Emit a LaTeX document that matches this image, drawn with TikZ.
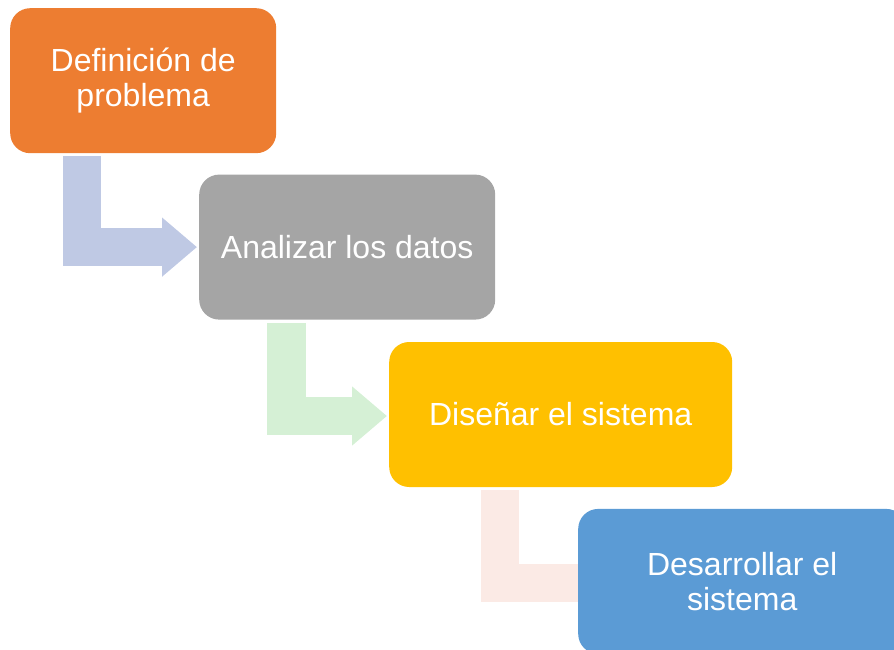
\documentclass[tikz,border=0pt]{standalone}
\usepackage{fontspec}
\setmainfont{Liberation Sans}
\usetikzlibrary{arrows.meta, positioning, backgrounds}
\definecolor{orangebox}{HTML}{ED7D31}
\definecolor{graybox}{HTML}{A5A5A5}
\definecolor{yellowbox}{HTML}{FFC000}
\definecolor{bluebox}{HTML}{5B9BD5}
\definecolor{bluearrow}{RGB}{191,201,228}
\definecolor{greenarrow}{RGB}{213,240,213}
\definecolor{pinkarrow}{RGB}{251,234,229}
\tikzstyle{block} = [rectangle, rounded corners=20pt, minimum height=145pt, inner sep=0pt, align=center, text=white, font=\fontsize{32}{35}\selectfont]
\tikzstyle{step one} = [block, fill=orangebox, minimum width=266pt]
\tikzstyle{step two} = [block, fill=graybox, minimum width=296pt]
\tikzstyle{step three} = [block, fill=yellowbox, minimum width=343pt]
\tikzstyle{step four} = [block, fill=bluebox, minimum width=328pt]
\tikzstyle{flow} = [line width=38.5pt, line join=miter, -{Triangle[length=35pt, width=57pt]}]

\begin{document}
\begin{tikzpicture}[x=1pt, y=1pt]
    \useasboundingbox (0,0) rectangle (894,-650);
    \clip (0,0) rectangle (894,-650);
    \node (problema) [step one, anchor=north west] at (10,-8) {Definición de\\problema};
    \node (datos) [step two, below=21pt of problema.south west, anchor=north west, xshift=189pt] {Analizar los datos};
    \node (diseno) [step three, below=22pt of datos.south west, anchor=north west, xshift=190pt] {Diseñar el sistema};
    \node (desarrollo) [step four, below=21.5pt of diseno.south west, anchor=north west, xshift=189pt] {Desarrollar el\\sistema};

    % Arrows.
    \begin{scope}[on background layer]
        \draw [flow, draw=bluearrow, shorten >=2pt] ([xshift=72pt, yshift=-3pt]problema.south west) |- (datos.west);
        \draw [flow, draw=greenarrow, shorten >=2pt] ([xshift=87.5pt, yshift=-3pt]datos.south west) |- ([yshift=-1.5pt]diseno.west);
        \draw [flow, draw=pinkarrow] ([xshift=111pt, yshift=-3pt]diseno.south west) |- ([xshift=36pt, yshift=-1.5pt]desarrollo.west);
    \end{scope}
\end{tikzpicture}
\end{document}
